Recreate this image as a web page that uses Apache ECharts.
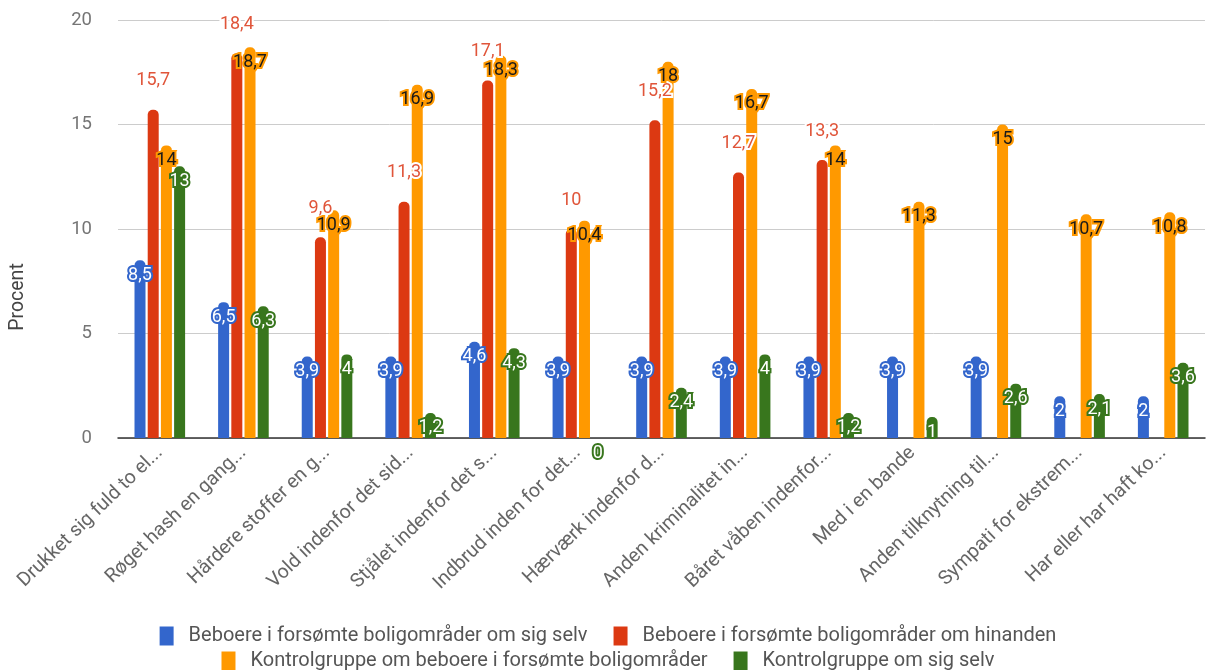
<!DOCTYPE html>
<html>
<head>
<meta charset="utf-8">
<script src="https://cdn.jsdelivr.net/npm/echarts@6/dist/echarts.min.js"></script>
<style>
html,body{margin:0;padding:0;background:#fff;}
#main{width:1216px;height:670px;}
</style>
</head>
<body>
<div id="main"></div>
<script>
var categories = [
  'Drukket sig fuld to el...',
  'Røget hash en gang...',
  'Hårdere stoffer en g...',
  'Vold indenfor det sid...',
  'Stjålet indenfor det s...',
  'Indbrud inden for det...',
  'Hærværk indenfor d...',
  'Anden kriminalitet in...',
  'Båret våben indenfor...',
  'Med i en bande',
  'Anden tilknytning til...',
  'Sympati for ekstrem...',
  'Har eller har haft ko...'
];
var seriesNames = [
  'Beboere i forsømte boligområder om sig selv',
  'Beboere i forsømte boligområder om hinanden',
  'Kontrolgruppe om beboere i forsømte boligområder',
  'Kontrolgruppe om sig selv'
];
var beboereSelv = [8.5, 6.5, 3.9, 3.9, 4.6, 3.9, 3.9, 3.9, 3.9, 3.9, 3.9, 2, 2];
var beboereHinanden = [15.7, 18.4, 9.6, 11.3, 17.1, 10, 15.2, 12.7, 13.3, null, null, null, null];
var kontrolOmBeboere = [14, 18.7, 10.9, 16.9, 18.3, 10.4, 18, 16.7, 14, 11.3, 15, 10.7, 10.8];
var kontrolSelv = [13, 6.3, 4, 1.2, 4.3, 0, 2.4, 4, 1.2, 1, 2.6, 2.1, 3.6];
var yTicks = [0, 5, 10, 15, 20];

var colors = ['#3366cc', '#dc3912', '#ff9900', '#38761d'];
var FONT = 'Roboto';

function fmt(p) {
  if (p.value === null || p.value === undefined || p.value === '-') return '';
  return String(p.value).replace('.', ',');
}

function outlinedLabel(textColor, borderColor) {
  return {
    show: true,
    position: 'insideTop',
    distance: 6,
    formatter: fmt,
    fontFamily: FONT,
    fontSize: 18,
    color: textColor,
    textBorderColor: borderColor,
    textBorderWidth: 4
  };
}

var barBase = {
  type: 'bar',
  barWidth: 11,
  barGap: '20%',
  itemStyle: { borderRadius: [5, 5, 0, 0] }
};

var legendText = { fontFamily: FONT, fontSize: 20, color: '#555', padding: [0, 0, 0, 10] };

var chart = echarts.init(document.getElementById('main'), null, { renderer: 'canvas' });
chart.setOption({
  backgroundColor: '#fff',
  animation: false,
  color: colors,
  grid: { left: 118, right: 11, top: 20, bottom: 232 },
  legend: [
    {
      data: [seriesNames[0], seriesNames[1]],
      top: 621,
      left: 'center',
      itemWidth: 14, itemHeight: 19, itemGap: 26,
      icon: 'rect',
      textStyle: legendText
    },
    {
      data: [seriesNames[2], seriesNames[3]],
      top: 646,
      left: 'center',
      itemWidth: 14, itemHeight: 19, itemGap: 26,
      icon: 'rect',
      textStyle: legendText
    }
  ],
  graphic: [{
    type: 'text',
    x: 18, y: 297,
    rotation: Math.PI / 2,
    style: {
      text: 'Procent',
      fontFamily: FONT, fontSize: 19.5, fill: '#444',
      align: 'center', verticalAlign: 'middle'
    }
  }],
  xAxis: {
    type: 'category',
    data: categories,
    axisTick: { show: false },
    axisLine: { lineStyle: { color: '#333', width: 1.5 } },
    axisLabel: {
      rotate: 44,
      interval: 0,
      margin: 12,
      fontFamily: FONT, fontSize: 19.5, color: '#666'
    }
  },
  yAxis: {
    type: 'value',
    min: yTicks[0], max: yTicks[yTicks.length - 1], interval: 5,
    axisLine: { show: false },
    axisTick: { show: false },
    splitLine: { lineStyle: { color: '#cccccc', width: 1 } },
    axisLabel: { margin: 26, fontFamily: FONT, fontSize: 18.5, color: '#757575' }
  },
  series: [
    Object.assign({}, barBase, {
      name: seriesNames[0], data: beboereSelv,
      label: outlinedLabel('#ffffff', colors[0])
    }),
    Object.assign({}, barBase, {
      name: seriesNames[1], data: beboereHinanden,
      label: {
        show: true, position: 'top', distance: 20, formatter: fmt,
        fontFamily: FONT, fontSize: 18, color: '#e0553a',
        textBorderColor: '#ffffff', textBorderWidth: 4
      }
    }),
    Object.assign({}, barBase, {
      name: seriesNames[2], data: kontrolOmBeboere,
      label: outlinedLabel('#1a1a1a', colors[2])
    }),
    Object.assign({}, barBase, {
      name: seriesNames[3], data: kontrolSelv,
      label: outlinedLabel('#ffffff', colors[3])
    })
  ]
});
</script>
</body>
</html>
